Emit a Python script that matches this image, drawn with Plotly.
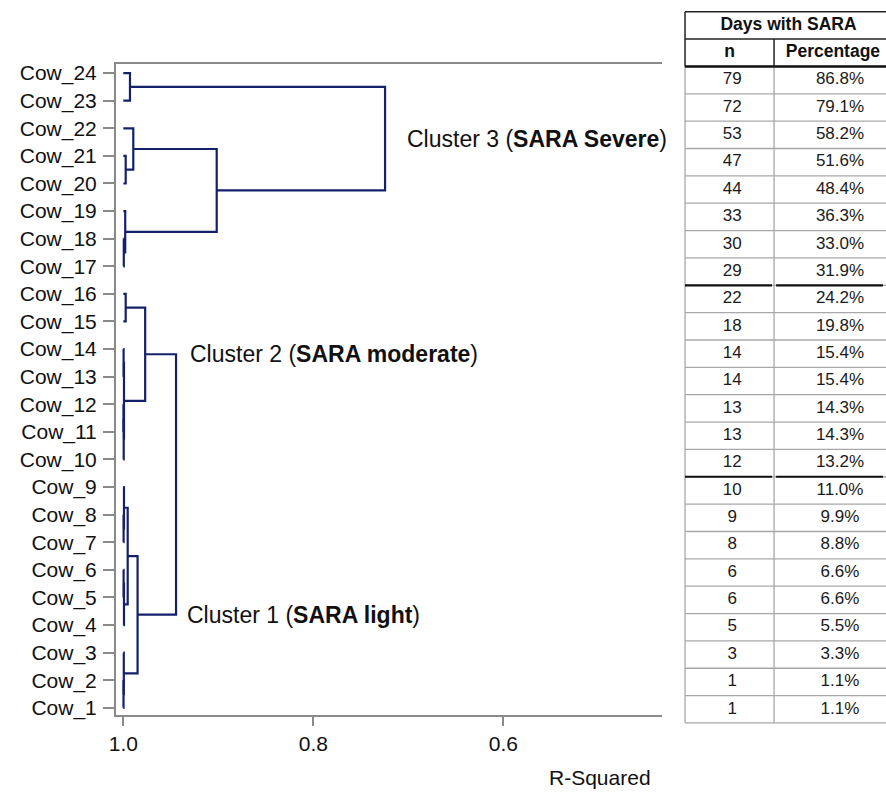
import plotly.graph_objects as go

# ---------------- data ----------------
cows = [f"Cow_{i}" for i in range(1, 25)]          # bottom (Cow_1) to top (Cow_24)

# hierarchical merges: node ids 0..23 are leaves (Cow_1..Cow_24), merges get ids 24, 25, ...
merge_a = [1, 2, 5, 3, 7, 8, 29, 30, 11, 9, 13, 34, 15, 36, 37, 17, 18, 20, 21, 42, 23, 44]
merge_b = [0, 24, 4, 26, 6, 28, 27, 25, 10, 32, 12, 33, 14, 35, 31, 16, 39, 19, 41, 40, 22, 43]
merge_r2 = [0.9998, 0.9995, 0.9997, 0.9993, 0.9997, 0.9993, 0.9954, 0.985,
            0.9998, 0.9996, 0.9997, 0.9993, 0.9975, 0.977, 0.9445,
            0.9995, 0.998, 0.9975, 0.9895, 0.9017, 0.993, 0.7245]

x_tick_vals = [1.0, 0.8, 0.6]
x_tick_text = ["1.0", "0.8", "0.6"]

# table (rows from Cow_24 down to Cow_1)
days_n = [79, 72, 53, 47, 44, 33, 30, 29, 22, 18, 14, 14, 13, 13, 12, 10, 9, 8, 6, 6, 5, 3, 1, 1]
days_pct = [86.8, 79.1, 58.2, 51.6, 48.4, 36.3, 33.0, 31.9, 24.2, 19.8, 15.4, 15.4, 14.3, 14.3,
            13.2, 11.0, 9.9, 8.8, 6.6, 6.6, 5.5, 3.3, 1.1, 1.1]
table_breaks = [8, 15]   # thick separators after these many rows

cluster_labels = [("Cluster 3 (<b>SARA Severe</b>)", 45, 45, 20),
                  ("Cluster 2 (<b>SARA moderate</b>)", 37, 38, 12),
                  ("Cluster 1 (<b>SARA light</b>)", 31, 38, 9)]

# ---------------- dendrogram geometry ----------------
n_leaf = len(cows)
node_y = {i: float(i) for i in range(n_leaf)}
node_h = {i: 1.0 for i in range(n_leaf)}
xs, ys = [], []
for k, (a, b, h) in enumerate(zip(merge_a, merge_b, merge_r2)):
    nid = n_leaf + k
    ya, yb = node_y[a], node_y[b]
    xs += [node_h[a], h, h, node_h[b], None]
    ys += [ya, ya, yb, yb, None]
    node_y[nid] = (ya + yb) / 2
    node_h[nid] = h

FONT = "Liberation Sans, Arial, sans-serif"
NAVY = "#15206c"
GRAY = "#8a8a8a"

fig = go.Figure()
fig.add_trace(go.Scatter(x=xs, y=ys, mode="lines",
                         line=dict(color=NAVY, width=2.2), hoverinfo="skip",
                         showlegend=False, xaxis="x", yaxis="y"))

# cluster annotations
for text, node, parent, shift in cluster_labels:
    fig.add_annotation(x=node_h[parent], y=node_y[node], xref="x", yref="y",
                       text=text, showarrow=False, xanchor="left", yanchor="middle",
                       xshift=shift, font=dict(family=FONT, size=23, color="#111"))

# axis title placed like the original
fig.add_annotation(x=0.886, y=(795 - 777) / 795, xref="x domain", yref="paper",
                   text="R-Squared", showarrow=False, xanchor="center", yanchor="middle",
                   font=dict(family=FONT, size=21, color="#111"))

# ---------------- table ----------------
n_rows = len(days_n)
row_y = [i + 2 for i in range(n_rows)]
col_div = 0.443
x_n = 0.235
x_pct = 0.771

fig.add_trace(go.Scatter(
    x=[x_n] * n_rows + [x_pct] * n_rows,
    y=row_y + row_y,
    text=[str(v) for v in days_n] + [f"{v:.1f}%" for v in days_pct],
    mode="text", textfont=dict(family=FONT, size=17, color="#1a1a1a"),
    hoverinfo="skip", showlegend=False, xaxis="x2", yaxis="y2", cliponaxis=False))
fig.add_trace(go.Scatter(
    x=[0.515, 0.222, 0.736], y=[0, 1, 1],
    text=["<b>Days with SARA</b>", "<b>n</b>", "<b>Percentage</b>"],
    mode="text", textfont=dict(family=FONT, size=17.5, color="#111"),
    hoverinfo="skip", showlegend=False, xaxis="x2", yaxis="y2", cliponaxis=False))

shapes = []
def hline(y, color, width, x0=0, x1=1):
    shapes.append(dict(type="line", xref="x2", yref="y2", x0=x0, x1=x1, y0=y, y1=y,
                       line=dict(color=color, width=width)))
def vline(x, y0, y1, color, width):
    shapes.append(dict(type="line", xref="x2", yref="y2", x0=x, x1=x, y0=y0, y1=y1,
                       line=dict(color=color, width=width)))

# data grid
for i in range(n_rows + 1):
    hline(1.5 + i, "#a8a8a8", 1.3)
vline(0, 1.5, n_rows + 1.5, "#a8a8a8", 1.3)
vline(col_div, 1.5, n_rows + 1.5, "#a8a8a8", 1.3)
for b in table_breaks:
    hline(1.5 + b, "#111", 2.2, 0, col_div - 0.01)
    hline(1.5 + b, "#111", 2.2, col_div + 0.01, 0.985)
# header
hline(-0.5, "#222", 1.5)
hline(0.5, "#222", 1.5)
hline(1.5, "#111", 2.5)
vline(0, -0.5, 1.5, "#222", 1.5)
vline(col_div, 0.5, 1.5, "#222", 1.5)

# ---------------- layout ----------------
W, H = 886, 795
fig.update_layout(
    template="none",
    width=W, height=H, autosize=False,
    margin=dict(l=0, r=0, t=0, b=0, pad=0),
    paper_bgcolor="white", plot_bgcolor="white",
    shapes=shapes,
    xaxis=dict(domain=[116 / W, 662 / W], range=[1.0077, 0.433], automargin=False,
               tickvals=x_tick_vals, ticktext=x_tick_text,
               ticks="outside", ticklen=9, tickwidth=1.5, tickcolor=GRAY,
               showline=True, linecolor=GRAY, linewidth=2, mirror=True,
               showgrid=False, zeroline=False,
               tickfont=dict(family=FONT, size=21, color="#111"), anchor="y"),
    yaxis=dict(domain=[(H - 715) / H, (H - 64) / H], range=[-0.26, 23.33], automargin=False,
               tickvals=list(range(n_leaf)), ticktext=cows,
               ticks="outside", ticklen=11, tickwidth=1.5, tickcolor=GRAY,
               showline=True, linecolor=GRAY, linewidth=2,
               showgrid=False, zeroline=False, ticklabelstandoff=2,
               tickfont=dict(family=FONT, size=21, color="#111"), anchor="x"),
    xaxis2=dict(domain=[681 / W, 1.0], range=[-0.02, 1.0], visible=False, anchor="y2",
                automargin=False),
    yaxis2=dict(domain=[(H - 725.7) / H, (H - 9.0) / H], range=[25.6, -0.6],
                visible=False, anchor="x2", automargin=False),
)

fig.write_html("out.html")
